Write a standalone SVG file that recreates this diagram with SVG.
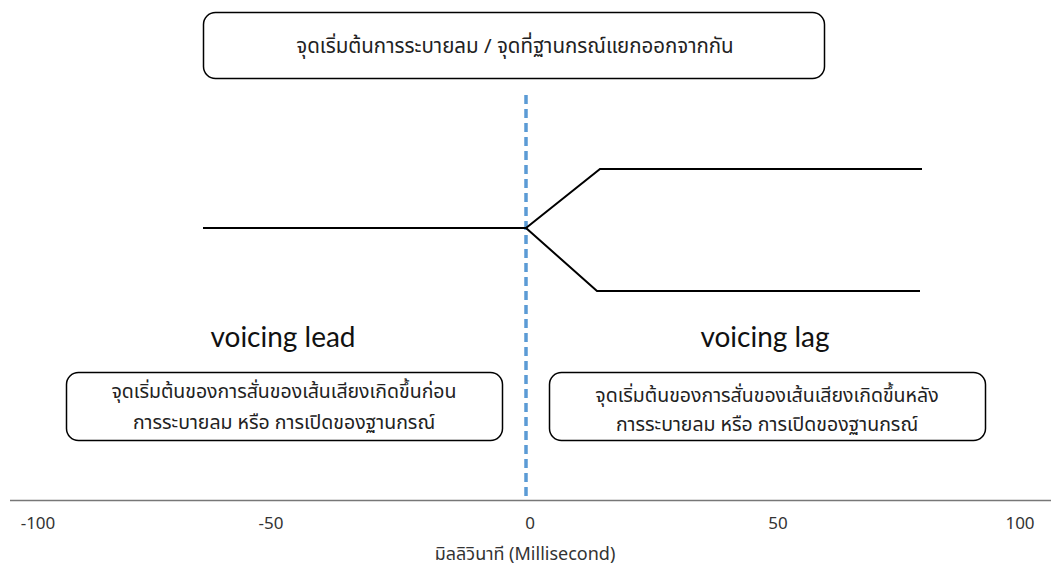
<svg xmlns="http://www.w3.org/2000/svg" width="1051" height="569" viewBox="0 0 1051 569">
<style>
.box{fill:#fff;stroke:#000;stroke-width:1.5}
.th{font-family:"Noto Sans Thai","Noto Sans","DejaVu Sans",sans-serif;font-size:19.5px;fill:#222;text-anchor:middle;font-weight:400}
.big{font-family:"Lato","Open Sans",sans-serif;font-size:28px;fill:#111;text-anchor:middle}
.tick{font-family:"Noto Sans Thai","Noto Sans","DejaVu Sans",sans-serif;font-size:17px;fill:#333;text-anchor:middle;font-weight:400}
.ln{fill:none;stroke:#000;stroke-width:2}
</style>
<rect width="1051" height="569" fill="#fff"/>
<g id="top-box">
<rect class="box" x="203.5" y="12.5" width="621" height="66" rx="12"/>
<text class="th" x="515" y="53" style="font-size:20.5px">จุดเริ่มต้นการระบายลม / จุดที่ฐานกรณ์แยกออกจากกัน</text>
</g>
<g id="connectors">
<line x1="526" y1="95" x2="526" y2="497" stroke="#5b9bd5" stroke-width="3.5" stroke-dasharray="9,5"/>
<polyline class="ln" points="203,228 526,228"/>
<polyline class="ln" points="526,228 600,169 922,169"/>
<polyline class="ln" points="526,228 597,291 920,291"/>
<line x1="10" y1="500.5" x2="1051" y2="500.5" stroke="#777" stroke-width="1.5"/>
</g>
<g id="lead">
<text class="big" x="283" y="347">voicing lead</text>
<rect class="box" x="66.5" y="372.5" width="436" height="68" rx="12"/>
<text class="th" x="284" y="398">จุดเริ่มต้นของการสั่นของเส้นเสียงเกิดขึ้นก่อน</text>
<text class="th" x="284" y="429">การระบายลม หรือ การเปิดของฐานกรณ์</text>
</g>
<g id="lag">
<text class="big" x="765" y="347">voicing lag</text>
<rect class="box" x="549.5" y="372.5" width="436" height="68" rx="12"/>
<text class="th" x="767" y="402">จุดเริ่มต้นของการสั่นของเส้นเสียงเกิดขึ้นหลัง</text>
<text class="th" x="767" y="431">การระบายลม หรือ การเปิดของฐานกรณ์</text>
</g>
<g id="axis">
<text class="tick" x="38" y="529">-100</text>
<text class="tick" x="271" y="529">-50</text>
<text class="tick" x="530" y="529">0</text>
<text class="tick" x="778" y="529">50</text>
<text class="tick" x="1020" y="529">100</text>
<text class="tick" x="525" y="560" style="font-size:18px">มิลลิวินาที (Millisecond)</text>
</g>
</svg>
